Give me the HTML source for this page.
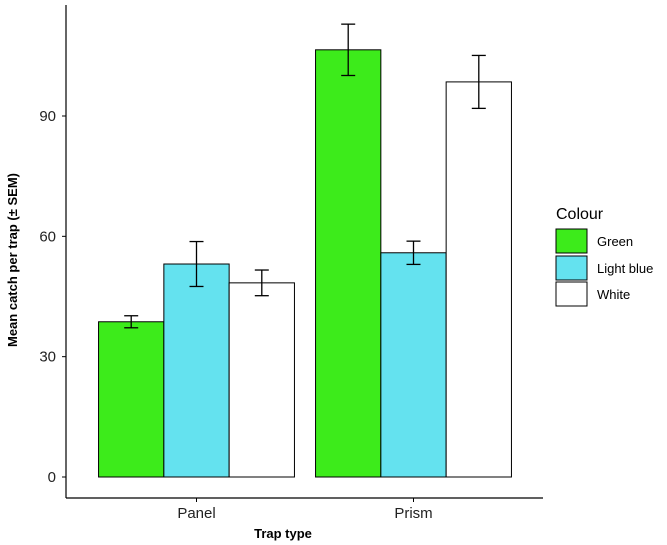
<!DOCTYPE html>
<html><head><meta charset="utf-8"><style>
body{margin:0;background:#fff;}
svg{display:block;font-family:"Liberation Sans",Arial,sans-serif;}
</style></head><body>
<svg id="chart" width="667" height="545" viewBox="0 0 667 545">
<g id="marks"></g>
<g id="axes"></g>
<g id="legend">
<text x="556" y="219" font-size="16" fill="#000">Colour</text>
<rect x="556" y="229" width="31" height="24" fill="#3deb1b" stroke="#000" stroke-width="1"/>
<text x="597" y="246" font-size="13">Green</text>
<rect x="556" y="256" width="31" height="24" fill="#64e2ef" stroke="#000" stroke-width="1"/>
<text x="597" y="273" font-size="13">Light blue</text>
<rect x="556" y="282" width="31" height="24" fill="#fff" stroke="#000" stroke-width="1"/>
<text x="597" y="299" font-size="13">White</text>
</g>
<text x="283" y="538" font-size="13" font-weight="bold" text-anchor="middle">Trap type</text>
<text transform="translate(17,260) rotate(-90)" font-size="13" font-weight="bold" text-anchor="middle">Mean catch per trap (± SEM)</text>
</svg>
<script>
const categories = ["Panel","Prism"];
const seriesNames = ["Green","Light blue","White"];
const green = [38.7, 106.5];
const lightBlue = [53.1, 55.9];
const white = [48.4, 98.5];
const greenErr = [1.5, 6.4];
const lightBlueErr = [5.6, 2.9];
const whiteErr = [3.2, 6.6];
const yTicks = [0,30,60,90];

const NS="http://www.w3.org/2000/svg";
const colors=["#3deb1b","#64e2ef","#ffffff"];
const vals=[green,lightBlue,white];
const errs=[greenErr,lightBlueErr,whiteErr];
function y(v){return 477 - v*(361/90);}
const catCenters=[196.5,413.5];
const barW=65.3;
function x(ci,si){return catCenters[ci]-1.5*barW+si*barW;}
const marks=document.getElementById('marks');
const axes=document.getElementById('axes');
function mk(tag,attrs,parent){const e=document.createElementNS(NS,tag);for(const k in attrs)e.setAttribute(k,attrs[k]);parent.appendChild(e);return e;}
for(let si=0;si<3;si++){
 for(let ci=0;ci<categories.length;ci++){
  const v=vals[si][ci],e=errs[si][ci];
  const r=mk('rect',{x:x(ci,si),y:y(v),width:barW,height:y(0)-y(v),fill:colors[si],stroke:'#000','stroke-width':1},marks);
  
  
  const cx=x(ci,si)+barW/2;
  const g=mk('g',{stroke:'#000','stroke-width':1.3},marks);
  
  
  mk('line',{x1:cx,x2:cx,y1:y(v+e),y2:y(v-e)},g);
  mk('line',{x1:cx-7,x2:cx+7,y1:y(v+e),y2:y(v+e)},g);
  mk('line',{x1:cx-7,x2:cx+7,y1:y(v-e),y2:y(v-e)},g);
 }
}
const ya=mk('line',{x1:66,x2:66,y1:5,y2:498,stroke:'#000','stroke-width':1.2},axes);


const xa=mk('line',{x1:66,x2:543,y1:498,y2:498,stroke:'#000','stroke-width':1.2},axes);


yTicks.forEach(t=>{
 mk('line',{x1:62,x2:66,y1:y(t),y2:y(t),stroke:'#000'},axes);
 const tx=mk('text',{x:56,y:y(t)+5,'font-size':15,'text-anchor':'end',fill:'#222'},axes);
 tx.textContent=t;
 
 
});
categories.forEach((c,i)=>{
 mk('line',{x1:catCenters[i],x2:catCenters[i],y1:498,y2:502,stroke:'#000'},axes);
 const tx=mk('text',{x:catCenters[i],y:518,'font-size':15,'text-anchor':'middle',fill:'#222'},axes);
 tx.textContent=c;
 
 
});
</script>
</body></html>
